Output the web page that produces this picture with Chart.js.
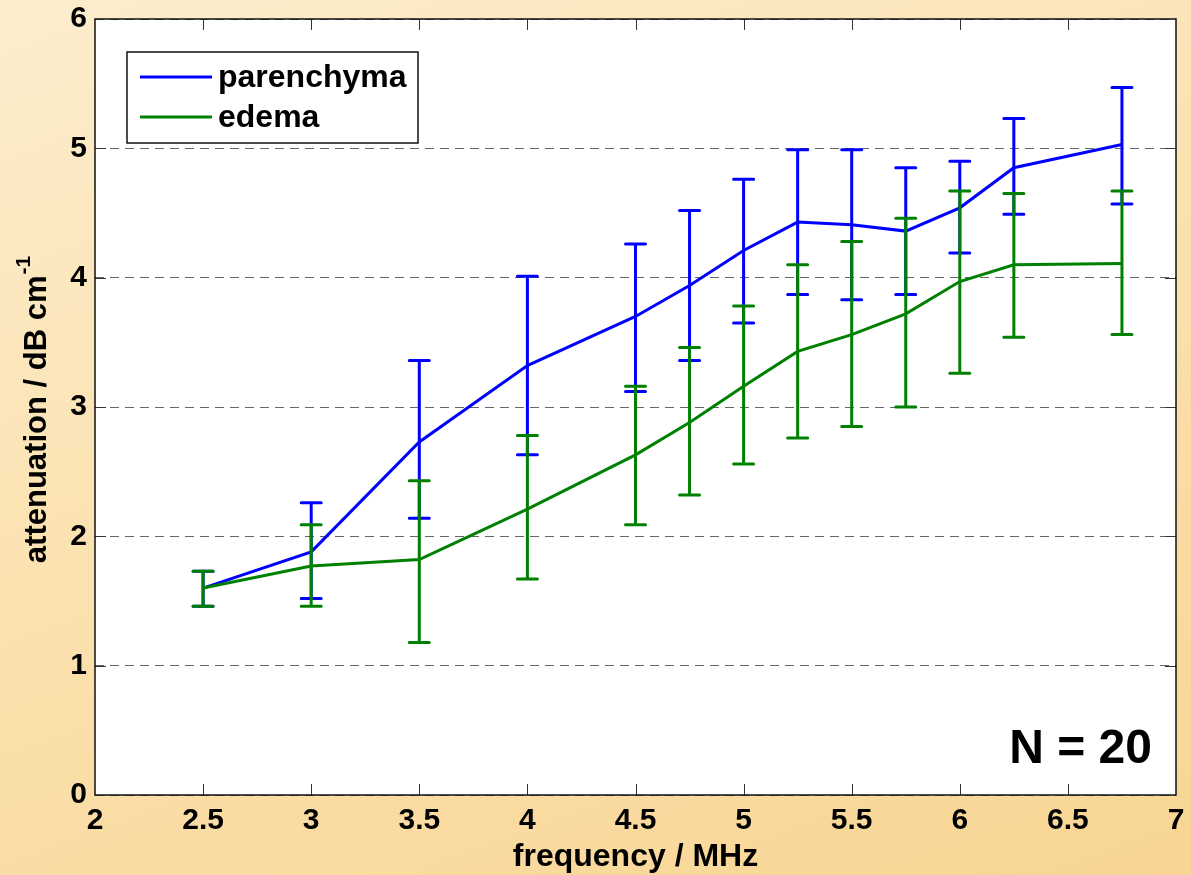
<!DOCTYPE html>
<html>
<head>
<meta charset="utf-8">
<script src="https://cdn.jsdelivr.net/npm/chart.js@4.4.0/dist/chart.umd.min.js"></script>
<style>
    html, body { margin: 0; padding: 0; }
    body {
        width: 1191px;
        height: 875px;
        background: linear-gradient(160deg, #fcedcd 0%, #fbe2b1 45%, #f8d593 100%);
    }
    #wrap { position: relative; width: 1191px; height: 875px; }
</style>
</head>
<body>
<div id="wrap"><canvas id="grafico"></canvas></div>
<script>
// dados
const frequencias = [2.5, 3, 3.5, 4, 4.5, 4.75, 5, 5.25, 5.5, 5.75, 6, 6.25, 6.75];

const parenchymaMedia = [1.60, 1.88, 2.73, 3.32, 3.70, 3.94, 4.21, 4.43, 4.41, 4.36, 4.54, 4.85, 5.03];
const parenchymaSup   = [1.73, 2.26, 3.36, 4.01, 4.26, 4.52, 4.76, 4.99, 4.99, 4.85, 4.90, 5.23, 5.47];
const parenchymaInf   = [1.46, 1.52, 2.14, 2.63, 3.12, 3.36, 3.65, 3.87, 3.83, 3.87, 4.19, 4.49, 4.57];

const edemaMedia = [1.60, 1.77, 1.82, 2.21, 2.63, 2.88, 3.16, 3.43, 3.56, 3.72, 3.97, 4.10, 4.11];
const edemaSup   = [1.73, 2.09, 2.43, 2.78, 3.16, 3.46, 3.78, 4.10, 4.28, 4.46, 4.67, 4.65, 4.67];
const edemaInf   = [1.46, 1.46, 1.18, 1.67, 2.09, 2.32, 2.56, 2.76, 2.85, 3.00, 3.26, 3.54, 3.56];

const xTicks = [2, 2.5, 3, 3.5, 4, 4.5, 5, 5.5, 6, 6.5, 7];
const yTicks = [0, 1, 2, 3, 4, 5, 6];

const FONTE = '"Liberation Sans", Arial, sans-serif';

function pontos(valores) {
    return frequencias.map((f, i) => ({ x: f, y: valores[i] }));
}

// fundo branco da área do gráfico, barras de erro, ticks internos, legenda, moldura
const extras = {
    id: 'extras',
    beforeDraw(chart) {
        const { ctx, chartArea: a } = chart;
        ctx.save();
        ctx.fillStyle = '#ffffff';
        ctx.fillRect(a.left, a.top, a.right - a.left, a.bottom - a.top);
        ctx.restore();
    },
    afterDatasetDraw(chart, args) {
        const ds = chart.data.datasets[args.index];
        const { ctx } = chart;
        const xs = chart.scales.x, ys = chart.scales.y;
        ctx.save();
        ctx.strokeStyle = ds.borderColor;
        ctx.lineWidth = 3;
        ctx.lineCap = 'round';
        frequencias.forEach((f, i) => {
            const x = xs.getPixelForValue(f);
            const y1 = ys.getPixelForValue(ds.erroSup[i]);
            const y2 = ys.getPixelForValue(ds.erroInf[i]);
            ctx.beginPath();
            ctx.moveTo(x, y1); ctx.lineTo(x, y2);
            ctx.moveTo(x - 10, y1); ctx.lineTo(x + 10, y1);
            ctx.moveTo(x - 10, y2); ctx.lineTo(x + 10, y2);
            ctx.stroke();
        });
        ctx.restore();
    },
    afterDraw(chart) {
        const { ctx, chartArea: a } = chart;
        const xs = chart.scales.x, ys = chart.scales.y;
        ctx.save();

        // ticks para dentro nos quatro lados
        ctx.strokeStyle = '#333';
        ctx.lineWidth = 1;
        ctx.beginPath();
        xTicks.slice(1, -1).forEach(v => {
            const x = Math.round(xs.getPixelForValue(v)) + 0.5;
            ctx.moveTo(x, a.bottom); ctx.lineTo(x, a.bottom - 11);
            ctx.moveTo(x, a.top); ctx.lineTo(x, a.top + 11);
        });
        yTicks.slice(1, -1).forEach(v => {
            const y = Math.round(ys.getPixelForValue(v)) + 0.5;
            ctx.moveTo(a.left, y); ctx.lineTo(a.left + 11, y);
            ctx.moveTo(a.right, y); ctx.lineTo(a.right - 11, y);
        });
        ctx.stroke();

        // moldura
        ctx.strokeStyle = '#111';
        ctx.lineWidth = 1.5;
        ctx.strokeRect(a.left, a.top, a.right - a.left, a.bottom - a.top);

        // legenda
        ctx.fillStyle = '#ffffff';
        ctx.fillRect(127, 52, 291, 91);
        ctx.strokeStyle = '#111';
        ctx.lineWidth = 1.5;
        ctx.strokeRect(127, 52, 291, 91);
        const itens = chart.data.datasets.slice().sort((p, q) => p.legendaOrdem - q.legendaOrdem);
        itens.forEach((ds, i) => {
            const y = 77 + i * 40;
            ctx.strokeStyle = ds.borderColor;
            ctx.lineWidth = 3;
            ctx.beginPath();
            ctx.moveTo(140, y); ctx.lineTo(212, y);
            ctx.stroke();
            ctx.fillStyle = '#000';
            ctx.font = 'bold 32px ' + FONTE;
            ctx.textAlign = 'left';
            ctx.textBaseline = 'middle';
            ctx.fillText(ds.label, 218, y + 1);
        });

        // N = 20
        ctx.fillStyle = '#000';
        ctx.font = 'bold 48px ' + FONTE;
        ctx.textAlign = 'right';
        ctx.textBaseline = 'alphabetic';
        ctx.fillText('N = 20', 1152, 763);

        // título do eixo y com expoente
        const meio = (a.top + a.bottom) / 2 + 3;
        ctx.translate(37, meio);
        ctx.rotate(-Math.PI / 2);
        ctx.font = 'bold 31px ' + FONTE;
        const principal = 'attenuation / dB cm';
        const wPrin = ctx.measureText(principal).width;
        ctx.font = 'bold 21px ' + FONTE;
        const wSup = ctx.measureText('-1').width;
        const x0 = -(wPrin + wSup) / 2;
        ctx.textAlign = 'left';
        ctx.textBaseline = 'middle';
        ctx.font = 'bold 31px ' + FONTE;
        ctx.fillText(principal, x0, 0);
        ctx.font = 'bold 21px ' + FONTE;
        ctx.fillText('-1', x0 + wPrin + 1, -13);

        ctx.restore();
    }
};

new Chart(document.getElementById('grafico'), {
    type: 'line',
    data: {
        datasets: [{
            label: 'parenchyma',
            data: pontos(parenchymaMedia),
            erroSup: parenchymaSup,
            erroInf: parenchymaInf,
            legendaOrdem: 0,
            order: 2,
            borderColor: '#0000ff',
            borderWidth: 3,
            pointRadius: 0,
            tension: 0,
            fill: false
        }, {
            label: 'edema',
            data: pontos(edemaMedia),
            erroSup: edemaSup,
            erroInf: edemaInf,
            legendaOrdem: 1,
            order: 1,
            borderColor: '#008000',
            borderWidth: 3,
            pointRadius: 0,
            tension: 0,
            fill: false
        }]
    },
    options: {
        responsive: true,
        maintainAspectRatio: false,
        animation: false,
        devicePixelRatio: 1,
        layout: { padding: { left: 0, right: 15, top: 19, bottom: 0 } },
        plugins: {
            legend: { display: false },
            tooltip: { enabled: false }
        },
        scales: {
            x: {
                type: 'linear',
                min: 2,
                max: 7,
                afterBuildTicks: s => { s.ticks = xTicks.map(v => ({ value: v })); },
                afterFit: s => { s.height = 80; s.paddingLeft = 0; s.paddingRight = 0; },
                ticks: {
                    color: '#000',
                    padding: 8,
                    font: { family: FONTE, size: 30, weight: 'bold' },
                    callback: v => String(v)
                },
                grid: { display: false, drawTicks: false },
                border: { display: false },
                title: {
                    display: true,
                    text: 'frequency / MHz',
                    color: '#000',
                    font: { family: FONTE, size: 32, weight: 'bold' },
                    padding: { top: 0, bottom: -1 }
                }
            },
            y: {
                min: 0,
                max: 6,
                afterBuildTicks: s => { s.ticks = yTicks.map(v => ({ value: v })); },
                afterFit: s => { s.width = 95; s.paddingTop = 0; s.paddingBottom = 0; },
                ticks: {
                    color: '#000',
                    padding: 8,
                    font: { family: FONTE, size: 30, weight: 'bold' },
                    callback: v => String(v)
                },
                grid: { color: '#666', lineWidth: 1, drawTicks: false },
                border: { display: false, dash: [9, 6] }
            }
        }
    },
    plugins: [extras]
});
</script>
</body>
</html>
